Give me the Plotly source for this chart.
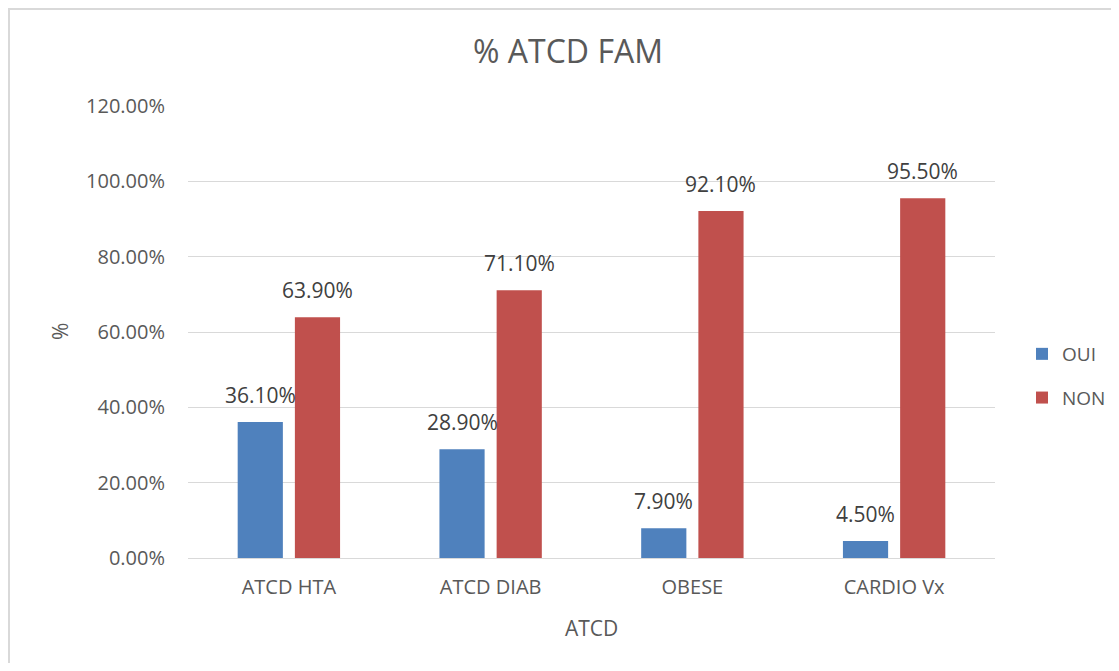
import plotly.graph_objects as go

# données
categories = ["ATCD HTA", "ATCD DIAB", "OBESE", "CARDIO Vx"]
oui = [0.361, 0.289, 0.079, 0.045]
non = [0.639, 0.711, 0.921, 0.955]
series = [("OUI", oui, "#4F81BD", -28.6), ("NON", non, "#C0504D", 28.6)]

# la page ajoute une marge de 8 px autour de la figure
OFF = 8
W, H = 1119 - 2 * OFF, 671 - 2 * OFF
L, T = 188 - OFF, 106 - OFF
R = W - (995 - OFF)
B = H - (558 - OFF)
pw, ph = W - L - R, H - T - B


def px(x):
    # position horizontale (pixels de la page) -> coordonnée paper
    return (x - OFF - L) / pw


def py(y):
    return (H - B - (y - OFF)) / ph


FONT = "Open Sans, Liberation Sans, sans-serif"
GREY = "#595959"

fig = go.Figure()
annotations = []
for name, vals, color, shift in series:
    fig.add_trace(go.Bar(
        x=categories, y=vals, name=name, legendgroup=name,
        marker=dict(color=color, line=dict(width=0)),
        hoverinfo="x+y",
    ))
    # étiquettes de données au-dessus des barres
    for cat, v in zip(categories, vals):
        annotations.append(dict(
            x=cat, y=v, xref="x", yref="y", text=f"{v * 100:.2f}%",
            showarrow=False, xshift=shift, yshift=11, yanchor="bottom",
            font=dict(family=FONT, size=21, color="#404040"),
        ))

# titres des axes
annotations.append(dict(
    x=px(60), y=py(332), xref="paper", yref="paper", text="%", showarrow=False,
    xanchor="center", yanchor="middle",
    textangle=-90, font=dict(family=FONT, size=21, color=GREY),
))
annotations.append(dict(
    x=px(591), y=py(628), xref="paper", yref="paper", xanchor="center", yanchor="middle",
    text="ATCD", showarrow=False, font=dict(family=FONT, size=21, color=GREY),
))

fig.update_layout(
    width=W, height=H,
    margin=dict(l=L, r=R, t=T, b=B, autoexpand=False),
    paper_bgcolor="white", plot_bgcolor="white",
    title=dict(text="% ATCD FAM", x=(568 - OFF) / W, xanchor="center", xref="container",
               y=1 - (52 - OFF) / H, yanchor="middle", yref="container",
               font=dict(family=FONT, size=32, color=GREY)),
    barmode="group", bargap=0.433, bargroupgap=0.21,
    showlegend=True,
    legend=dict(x=px(1022), y=py(376), xanchor="left", yanchor="middle",
                font=dict(family=FONT, size=19, color=GREY),
                traceorder="grouped", tracegroupgap=16, itemwidth=30),
    annotations=annotations,
    shapes=[
        # cadre gris du graphique (haut et gauche)
        dict(type="line", xref="paper", yref="paper",
             x0=px(8), x1=px(1140), y0=py(9), y1=py(9),
             line=dict(color="#D9D9D9", width=2)),
        dict(type="line", xref="paper", yref="paper",
             x0=px(9), x1=px(9), y0=py(9), y1=py(700),
             line=dict(color="#D9D9D9", width=2)),
    ],
)

fig.update_yaxes(range=[0, 1.2001], dtick=0.2, tickformat=".2%",
                 gridcolor="#D9D9D9", gridwidth=1, zeroline=False, showline=False,
                 ticks="", ticklabelstandoff=22,
                 tickfont=dict(family=FONT, size=20, color=GREY))
fig.update_xaxes(showline=True, linecolor="#D9D9D9", linewidth=1, ticks="",
                 ticklabelstandoff=11,
                 tickfont=dict(family=FONT, size=20, color=GREY))

fig.write_html("out.html")
